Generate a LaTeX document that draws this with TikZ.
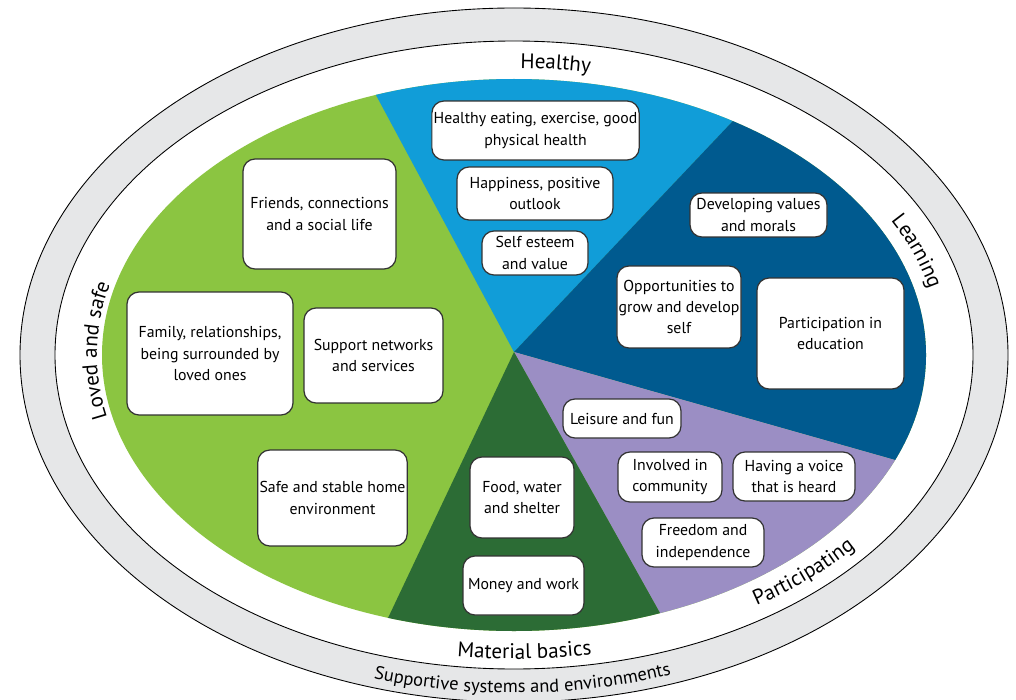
\documentclass[tikz,border=0pt]{standalone}
\usepackage{fontspec}
\setmainfont{PT Sans}
\usetikzlibrary{calc, decorations.text}

\definecolor{lovedgreen}{RGB}{139,197,65}
\definecolor{healthblue}{RGB}{17,157,216}
\definecolor{learnblue}{RGB}{0,90,143}
\definecolor{partpurple}{RGB}{155,142,196}
\definecolor{basicgreen}{RGB}{44,108,53}
\definecolor{ringgrey}{RGB}{230,231,232}

\newcommand{\catfont}{\fontsize{12}{14}\selectfont}
\newcommand{\ringfont}{\fontsize{10.5}{12.5}\selectfont}

\begin{document}
\begin{tikzpicture}[x=0.02cm, y=-0.02cm,
                    item/.style={draw=black!80, fill=white, rounded corners=0.24cm, line width=0.7pt, align=center, inner sep=1pt, font=\fontsize{9}{12.2}\selectfont},
                    along/.style={decorate, decoration={text along path, text align=center, text={#1}}}]
  \useasboundingbox (0,0) rectangle (1016,699);
  \coordinate (ctr) at (514,355);

  % supportive systems ring
  \draw[fill=ringgrey, line width=0.5pt] (ctr) ellipse [x radius=494, y radius=347];
  \draw[fill=white, line width=0.5pt] (ctr) ellipse [x radius=459, y radius=314];

  % pie slices
  \coordinate (apex) at (514,352);
  \coordinate (b1) at (377,97);
  \coordinate (b2) at (731,123);
  \coordinate (b3) at (895,460);
  \coordinate (b4) at (660,613);
  \coordinate (b5) at (388,618);
  \fill[lovedgreen] (ctr) ellipse [x radius=412, y radius=276];
  \begin{scope}
    \clip (ctr) ellipse [x radius=412, y radius=276];
    \fill[healthblue] (apex) -- ($(apex)!3!(b1)$) -- ($(apex)!3!(b2)$) -- cycle;
    \fill[learnblue] (apex) -- ($(apex)!3!(b2)$) -- ($(apex)!3!(b3)$) -- cycle;
    \fill[partpurple] (apex) -- ($(apex)!3!(b3)$) -- ($(apex)!3!(b4)$) -- cycle;
    \fill[basicgreen] (apex) -- ($(apex)!3!(b4)$) -- ($(apex)!3!(b5)$) -- cycle;
  \end{scope}

  % labels round the pie
  \path[along={|\catfont|Healthy}] ($(ctr)+(-104.3:430 and 287)$) arc[start angle=-104.3, end angle=-64.3, x radius=430, y radius=287];
  \path[along={|\catfont|Learning}] ($(ctr)+(-39.7:427 and 286)$) arc[start angle=-39.7, end angle=0.3, x radius=427, y radius=286];
  \path[along={|\catfont|Participating}] ($(ctr)+(71.9:446 and 299)$) arc[start angle=71.9, end angle=21.9, x radius=446, y radius=299];
  \path[along={|\catfont|Material basics}] ($(ctr)+(113.6:453 and 304)$) arc[start angle=113.6, end angle=63.6, x radius=453, y radius=304];
  \path[along={|\catfont|Loved and safe}] ($(ctr)+(150.8:417 and 285)$) arc[start angle=150.8, end angle=210.8, x radius=417, y radius=285];
  \path[along={|\ringfont|Supportive systems and environments}] ($(ctr)+(123.9:486 and 338)$) arc[start angle=123.9, end angle=53.9, x radius=486, y radius=338];

  % healthy
  \node[item, minimum width=4.02cm, minimum height=1.18cm] (eating) at (535.5,130.5) {Healthy eating, exercise, good\\physical health};
  \node[item, minimum width=3.12cm, minimum height=1.06cm] (happiness) at (535,193.5) {Happiness, positive\\outlook};
  \node[item, minimum width=2.12cm, minimum height=0.88cm] (esteem) at (535,253) {Self esteem\\and value};

  % loved and safe
  \node[item, minimum width=3.06cm, minimum height=2.20cm] (friends) at (319.5,214) {Friends, connections\\and a social life};
  \node[item, minimum width=3.32cm, minimum height=2.46cm] (family) at (210,353.5) {Family, relationships,\\being surrounded by\\loved ones};
  \node[item, minimum width=2.78cm, minimum height=1.90cm] (support) at (373.5,355.5) {Support networks\\and services};
  \node[item, minimum width=2.94cm, minimum height=1.92cm] (home) at (332.5,498) {Safe and stable home\\environment};

  % learning
  \node[item, minimum width=2.74cm, minimum height=0.88cm] (values) at (758.5,215) {Developing values\\and morals};
  \node[item, minimum width=2.36cm, minimum height=1.64cm] (grow) at (679,307) {Opportunities to\\grow and develop\\self};
  \node[item, minimum width=2.94cm, minimum height=2.22cm] (education) at (830.5,333.5) {Participation in\\education};

  % participating
  \node[item, minimum width=2.36cm, minimum height=0.78cm] (leisure) at (622,418.5) {Leisure and fun};
  \node[item, minimum width=2.08cm, minimum height=1.00cm] (community) at (670,477) {Involved in\\community};
  \node[item, minimum width=2.44cm, minimum height=0.98cm] (voice) at (794,476.5) {Having a voice\\that is heard};
  \node[item, minimum width=2.44cm, minimum height=0.98cm] (freedom) at (703,542.5) {Freedom and\\independence};

  % material basics
  \node[item, minimum width=2.08cm, minimum height=1.62cm] (food) at (522,497.5) {Food, water\\and shelter};
  \node[item, minimum width=2.42cm, minimum height=1.18cm] (money) at (523.5,585.5) {Money and work};
\end{tikzpicture}
\end{document}
